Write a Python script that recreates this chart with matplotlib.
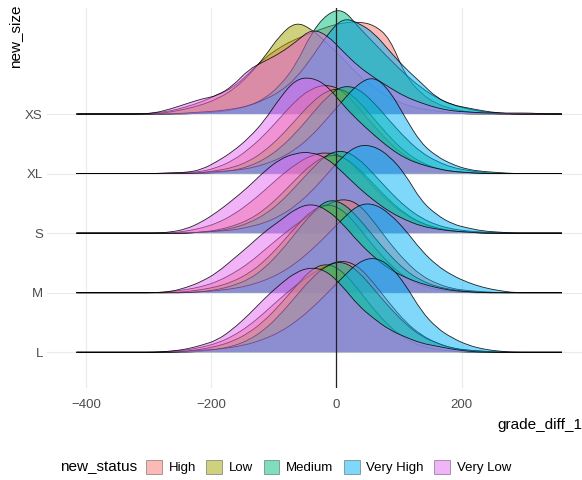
import numpy as np
import matplotlib.pyplot as plt
from matplotlib.patches import Patch, PathPatch
from matplotlib.path import Path

plt.rcParams['font.family'] = ['Liberation Sans', 'DejaVu Sans']

# x positions where the ridge heights were read (grade_diff_1)
grade_diff = np.arange(-415, 361, 25)

sizes = ['L', 'M', 'S', 'XL', 'XS']
statuses = ['High', 'Low', 'Medium', 'Very High', 'Very Low']
colors = ['#F8766D', '#A3A500', '#00BF7D', '#00B0F6', '#E76BF3']

# ridge heights (relative density) per size / status
xs_high = [0,0,0,0,0,1,3,7,12,19,26,40,55,66,74,80,86,90,91,88,75,38,20,10,5,2,1,0,0,0,0,0]
xs_low = [0,0,0,0,0,0,2,5,9,15,24,38,56,78,91,84,70,55,38,26,16,9,5,3,1,0,0,0,0,0,0,0]
xs_medium = [0,0,0,0,0,0,0,0,1,2,4,8,15,28,48,80,99,104,86,70,54,39,26,16,9,5,2,1,0,0,0,0]
xs_vhigh = [0,0,0,0,0,0,0,1,2,3,5,8,14,22,35,55,78,95,90,80,62,45,31,16,9,6,3,1,0,0,0,0]
xs_vlow = [0,0,0,0,0,1,5,10,15,18,28,44,52,60,71,84,78,62,47,36,26,17,11,6,3,2,1,1,1,1,0,0]

xl_high = [0,0,0,0,0,0,0,1,2,6,13,24,38,55,72,84,88,82,65,47,30,17,9,4,2,1,0,0,0,0,0,0]
xl_low = [0,0,0,0,0,0,0,0,1,3,6,12,22,36,53,70,82,84,72,54,36,21,11,5,2,1,0,0,0,0,0,0]
xl_medium = [0,0,0,0,0,0,0,0,0,1,3,7,14,25,40,58,76,87,84,70,52,35,21,12,6,3,1,0,0,0,0,0]
xl_vhigh = [0,0,0,0,0,0,0,0,1,2,3,5,9,15,24,37,54,72,89,96,82,55,30,17,9,4,2,1,0,0,0,0]
xl_vlow = [0,0,0,0,0,0,1,1,4,12,22,35,52,75,93,95,87,68,52,38,25,15,9,5,2,1,0,0,0,0,0,0]

s_high = [0,0,0,0,0,0,0,2,5,10,18,29,42,56,68,77,80,76,62,45,30,18,10,5,2,1,0,0,0,0,0,0]
s_low = [0,0,0,0,0,0,0,0,1,3,7,13,23,37,53,68,77,76,64,48,32,19,10,5,2,1,0,0,0,0,0,0]
s_medium = [0,0,0,0,0,0,0,0,1,2,5,10,18,30,46,63,78,82,74,58,41,26,15,8,4,2,1,0,0,0,0,0]
s_vhigh = [0,0,0,0,0,0,0,0,1,2,3,6,10,17,27,41,58,76,87,86,76,58,32,18,9,5,2,1,0,0,0,0]
s_vlow = [0,0,0,0,0,0,1,4,11,21,33,46,61,73,79,80,74,60,45,32,21,13,7,4,2,1,0,0,0,0,0,0]

m_high = [0,0,0,0,0,0,1,3,6,11,19,29,42,55,67,78,87,93,88,70,49,31,17,9,4,2,1,0,0,0,0,0]
m_low = [0,0,0,0,0,0,0,1,3,6,11,19,31,47,65,81,88,82,65,45,28,15,7,3,1,0,0,0,0,0,0,0]
m_medium = [0,0,0,0,0,0,0,0,1,3,7,13,24,40,59,78,92,89,74,55,37,22,12,6,3,1,0,0,0,0,0,0]
m_vhigh = [0,0,0,0,0,0,0,0,1,2,4,7,12,19,29,42,57,73,87,88,78,62,42,27,17,10,5,2,0,0,0,0]
m_vlow = [0,0,0,0,0,0,1,5,11,20,33,46,60,71,83,88,82,68,50,35,23,15,9,5,2,1,0,0,0,0,0,0]

l_high = [0,0,0,0,0,0,1,2,5,9,16,26,39,53,66,77,86,91,85,68,48,30,17,9,4,2,1,0,0,0,0,0]
l_low = [0,0,0,0,0,0,0,1,3,6,11,19,31,47,65,82,88,80,62,42,25,13,6,3,1,0,0,0,0,0,0,0]
l_medium = [0,0,0,0,0,0,0,0,1,3,6,12,22,37,55,73,86,90,80,62,44,28,16,9,4,2,1,0,0,0,0,0]
l_vhigh = [0,0,0,0,0,0,0,1,2,3,5,8,13,20,30,43,58,74,89,94,86,67,41,24,14,7,3,1,0,0,0,0]
l_vlow = [0,0,0,0,0,0,1,3,7,12,23,37,53,67,79,84,80,65,46,33,22,15,9,6,3,1,0,0,0,0,0,0]

ridges = {
    'L': [l_high, l_low, l_medium, l_vhigh, l_vlow],
    'M': [m_high, m_low, m_medium, m_vhigh, m_vlow],
    'S': [s_high, s_low, s_medium, s_vhigh, s_vlow],
    'XL': [xl_high, xl_low, xl_medium, xl_vhigh, xl_vlow],
    'XS': [xs_high, xs_low, xs_medium, xs_vhigh, xs_vlow],
}

scale = 1.77
top = max(max(max(d) for d in v) for v in ridges.values())


def smooth_path(x, y, base=None):
    # quadratic b-spline style outline through the read points
    verts = [(x[0], y[0])]
    codes = [Path.MOVETO]
    for i in range(1, len(x) - 1):
        verts += [(x[i], y[i]), ((x[i] + x[i+1]) / 2, (y[i] + y[i+1]) / 2)]
        codes += [Path.CURVE3, Path.CURVE3]
    verts.append((x[-1], y[-1]))
    codes.append(Path.LINETO)
    if base is not None:
        verts += [(x[-1], base), (x[0], base), (x[0], base)]
        codes += [Path.LINETO, Path.LINETO, Path.CLOSEPOLY]
    return Path(verts, codes)


fig = plt.figure(figsize=(5.82, 4.80), dpi=100)
ax = fig.add_axes([47/582, 92/480, 535/582, 380/480])

z = 2
# top row first so the lower ridges sit in front
for i in range(len(sizes) - 1, -1, -1):
    size = sizes[i]
    base = i + 1
    for dens, col in zip(ridges[size], colors):
        h = base + np.array(dens) / top * scale
        ax.add_patch(PathPatch(smooth_path(grade_diff, h, base), facecolor=col,
                               alpha=0.5, lw=0, zorder=z))
        ax.add_patch(PathPatch(smooth_path(grade_diff, h), fill=False,
                               edgecolor='black', lw=0.6, alpha=0.85, zorder=z + 0.5))
        z += 1

ax.axvline(0, color='#222222', lw=0.9, zorder=z + 1)

ax.set_xlim(-462, 392)
ax.set_ylim(0.40, 6.78)
ax.set_xticks([-400, -200, 0, 200])
ax.set_yticks(range(1, len(sizes) + 1))
ax.set_yticklabels(sizes)
ax.tick_params(length=0, labelsize=9.5, labelcolor='#4D4D4D')
ax.tick_params(axis='x', pad=8)
ax.tick_params(axis='y', pad=3)
ax.grid(True, color='#EBEBEB', lw=0.8, zorder=0)
ax.set_axisbelow(True)
for sp in ax.spines.values():
    sp.set_visible(False)

fig.text(15/582, 1 - 4/480, 'new_size', rotation=90, ha='center', va='top', fontsize=11)
fig.text(1.0, 55/480, 'grade_diff_1', ha='right', va='center', fontsize=11)

fig.text(60/582, 13/480, 'new_status', ha='left', va='center', fontsize=11)
handles = [Patch(facecolor=c, alpha=0.5, edgecolor='#333333', lw=0.6) for c in colors]
fig.legend(handles, statuses, ncol=5, loc='center left', bbox_to_anchor=(146/582, 13/480),
           frameon=False, fontsize=9.5, handlelength=1.2, handleheight=1.3,
           handletextpad=0.5, columnspacing=0.8, borderpad=0, borderaxespad=0)

fig.savefig('out.png', dpi=100)
